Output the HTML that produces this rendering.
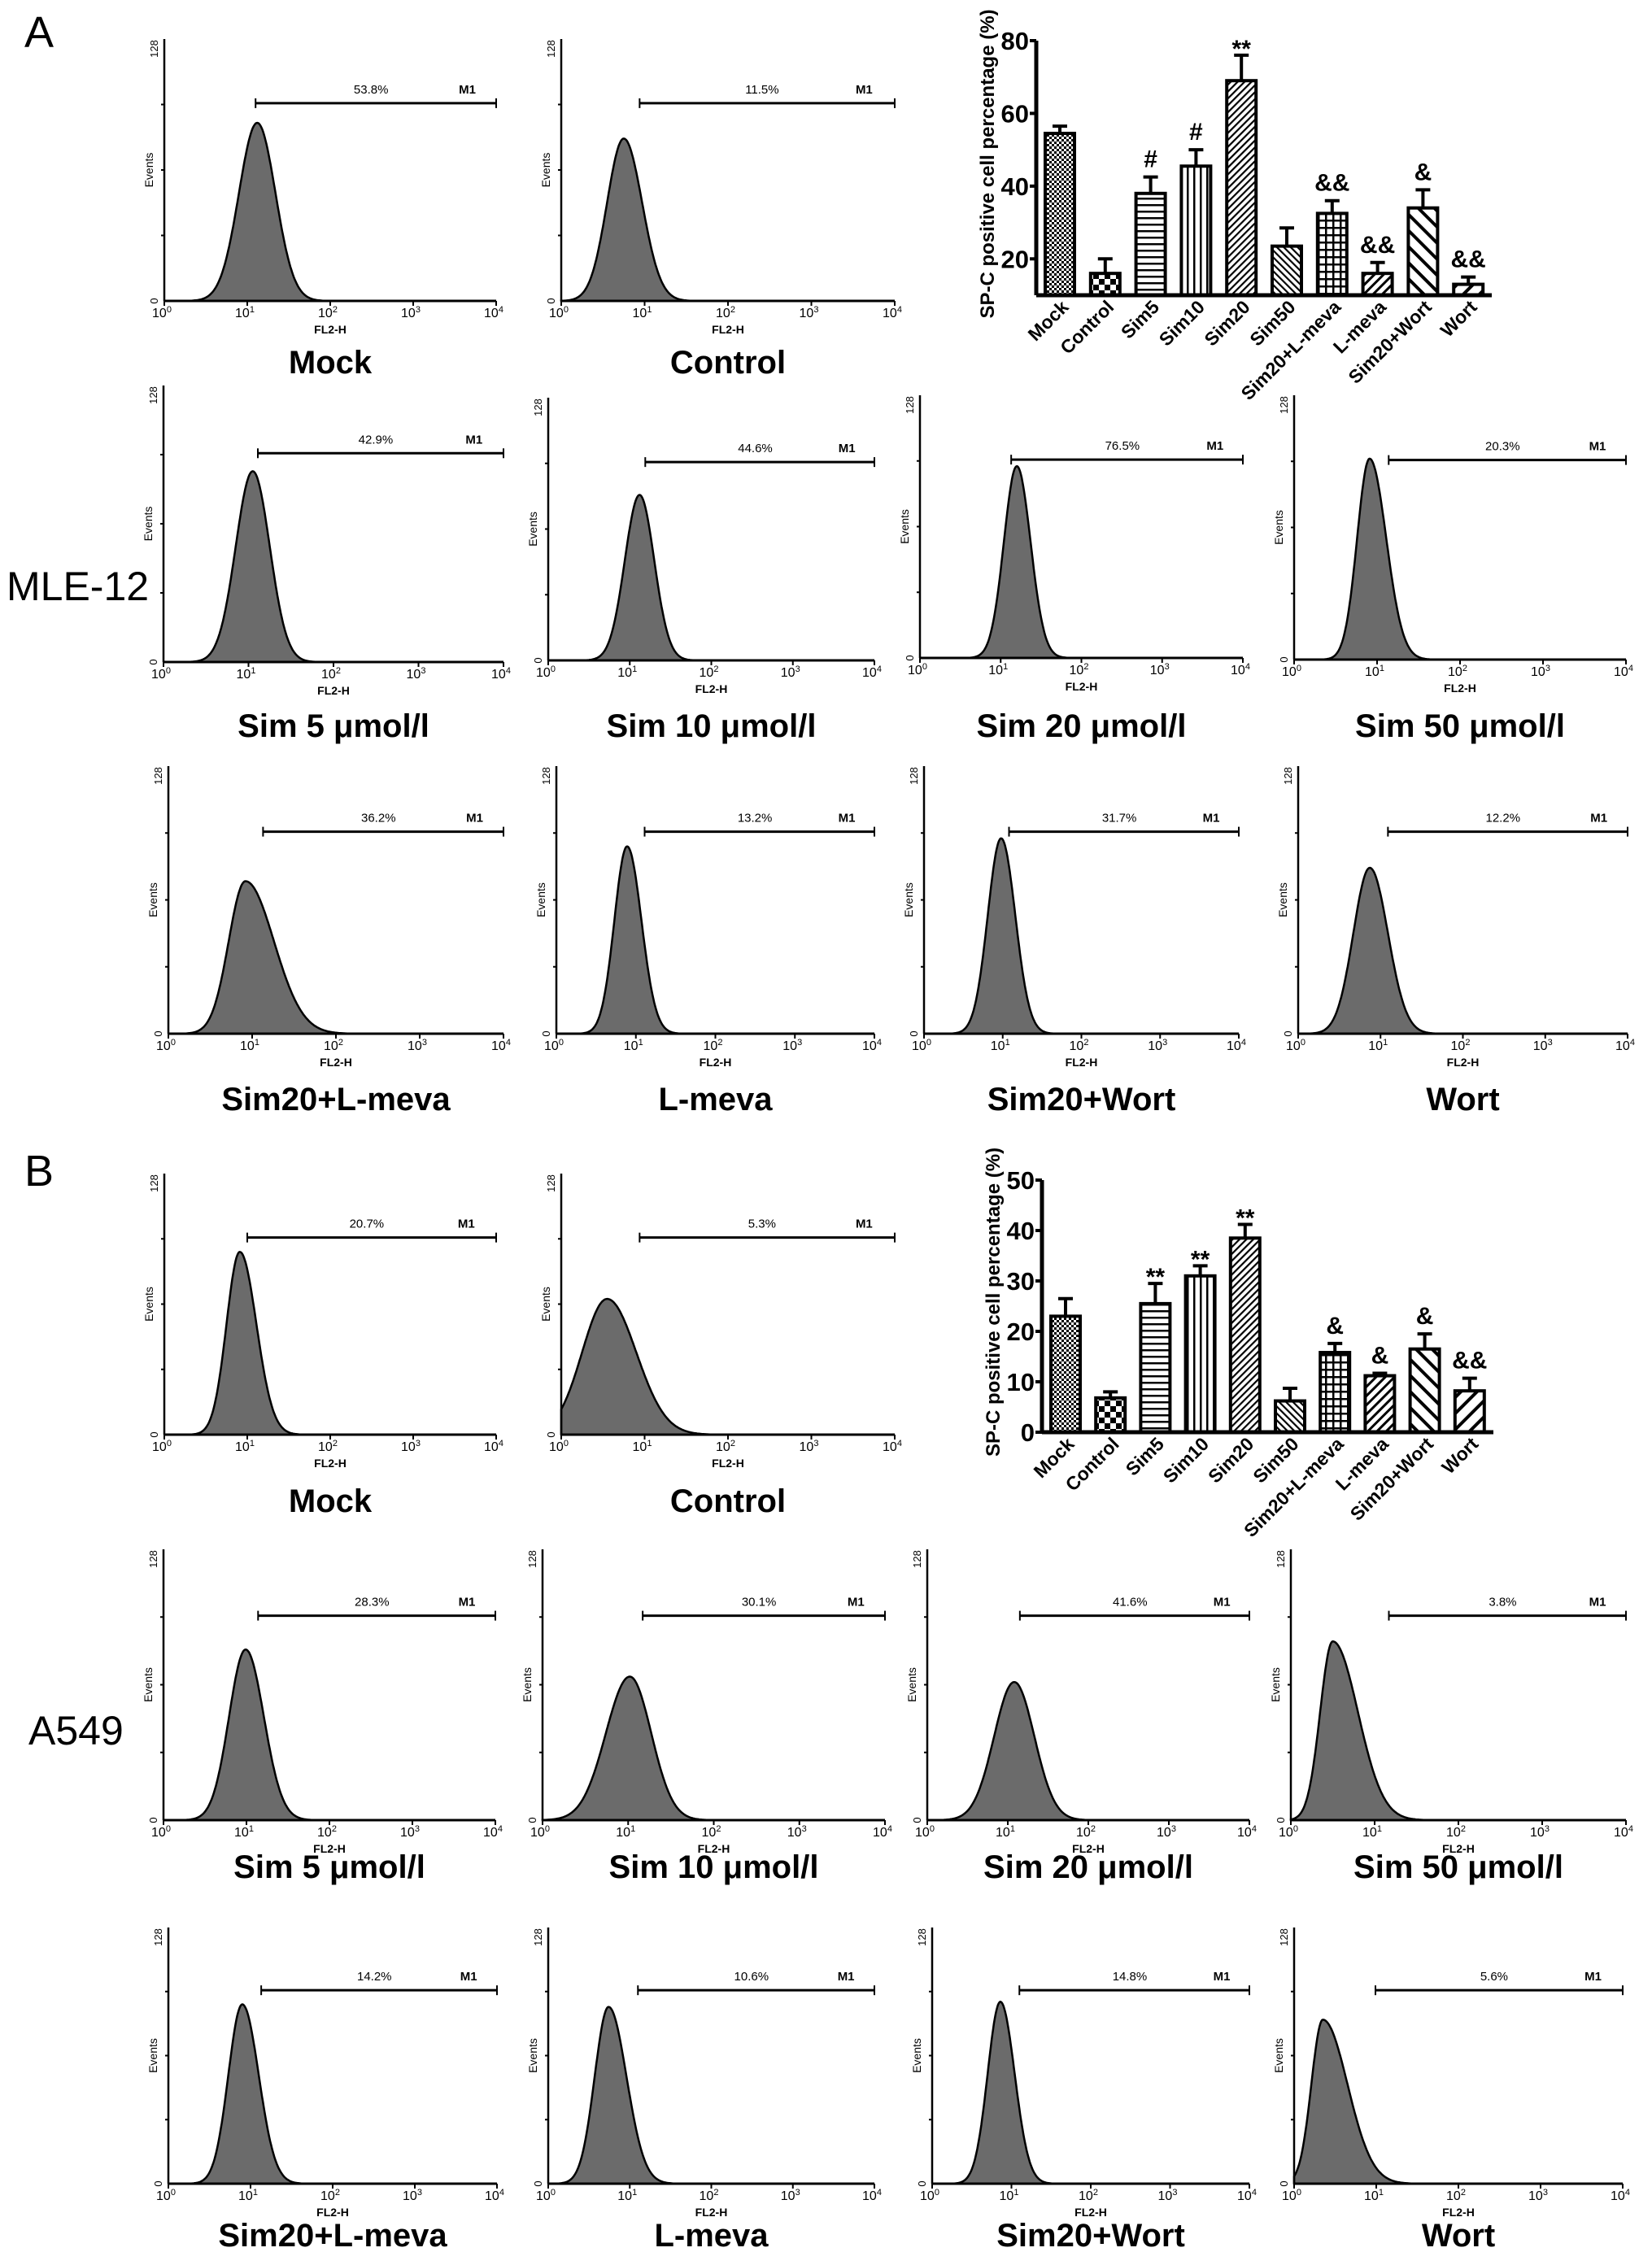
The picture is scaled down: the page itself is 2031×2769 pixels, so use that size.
<!DOCTYPE html>
<html><head><meta charset="utf-8"><style>
html,body{margin:0;padding:0;background:#fff}
svg{display:block}
text{font-family:"Liberation Sans",Arial,sans-serif}
</style></head><body>
<svg id="fig" xmlns="http://www.w3.org/2000/svg" width="2031" height="2769" viewBox="0 0 2031 2769">
<defs>
<pattern id="p0" width="6" height="6" patternUnits="userSpaceOnUse"><rect width="6" height="6" fill="#fff"/><rect width="3" height="3" fill="#000"/><rect x="3" y="3" width="3" height="3" fill="#000"/></pattern>
<pattern id="p1" width="14" height="14" patternUnits="userSpaceOnUse"><rect width="14" height="14" fill="#fff"/><rect width="7" height="7" fill="#000"/><rect x="7" y="7" width="7" height="7" fill="#000"/></pattern>
<pattern id="p2" width="8" height="8" patternUnits="userSpaceOnUse"><rect width="8" height="8" fill="#fff"/><rect y="3" width="8" height="2.5" fill="#000"/></pattern>
<pattern id="p3" width="8" height="8" patternUnits="userSpaceOnUse"><rect width="8" height="8" fill="#fff"/><rect x="3" width="2.5" height="8" fill="#000"/></pattern>
<pattern id="p4" width="6" height="6" patternUnits="userSpaceOnUse" patternTransform="rotate(45)"><rect width="6" height="6" fill="#fff"/><rect width="2.2" height="6" fill="#000"/></pattern>
<pattern id="p5" width="6" height="6" patternUnits="userSpaceOnUse" patternTransform="rotate(-45)"><rect width="6" height="6" fill="#fff"/><rect width="2.2" height="6" fill="#000"/></pattern>
<pattern id="p6" width="9" height="9" patternUnits="userSpaceOnUse"><rect width="9" height="9" fill="#fff"/><rect width="9" height="2.5" fill="#000"/><rect width="2.5" height="9" fill="#000"/></pattern>
<pattern id="p7" width="8" height="8" patternUnits="userSpaceOnUse" patternTransform="rotate(45)"><rect width="8" height="8" fill="#fff"/><rect width="3" height="8" fill="#000"/></pattern>
<pattern id="p8" width="14" height="14" patternUnits="userSpaceOnUse" patternTransform="rotate(-45)"><rect width="14" height="14" fill="#fff"/><rect width="4" height="14" fill="#000"/></pattern>
<pattern id="p9" width="14" height="14" patternUnits="userSpaceOnUse" patternTransform="rotate(45)"><rect width="14" height="14" fill="#fff"/><rect width="4" height="14" fill="#000"/></pattern>
</defs>
<text x="30" y="58" font-size="54">A</text>
<text x="30" y="1458" font-size="54">B</text>
<text x="8" y="738" font-size="50">MLE-12</text>
<text x="35" y="2145" font-size="50">A549</text>
</svg>
<script>
// ---- bar chart data ----
const groups = ["Mock","Control","Sim5","Sim10","Sim20","Sim50","Sim20+L-meva","L-meva","Sim20+Wort","Wort"];
const valuesA = [54.5,16,38,45.5,69,23.5,32.5,16,34,13];
const errorsA = [2,4,4.5,4.5,7,5,3.5,3,5,2];
const marksA = ["","","#","#","**","","&&","&&","&","&&"];
const ticksA = [20,40,60,80];
const valuesB = [23,6.8,25.5,31,38.5,6.2,15.8,11.2,16.5,8.2];
const errorsB = [3.5,1.2,4,2,2.7,2.5,1.8,0.5,3,2.5];
const marksB = ["","","**","**","**","","&","&","&","&&"];
const ticksB = [0,10,20,30,40,50];
// ---- histogram data (per panel) ----
const histTitles = ["Mock","Control","Sim 5 μmol/l","Sim 10 μmol/l","Sim 20 μmol/l","Sim 50 μmol/l","Sim20+L-meva","L-meva","Sim20+Wort","Wort",
 "Mock","Control","Sim 5 μmol/l","Sim 10 μmol/l","Sim 20 μmol/l","Sim 50 μmol/l","Sim20+L-meva","L-meva","Sim20+Wort","Wort"];
const histPercents = ["53.8%","11.5%","42.9%","44.6%","76.5%","20.3%","36.2%","13.2%","31.7%","12.2%",
 "20.7%","5.3%","28.3%","30.1%","41.6%","3.8%","14.2%","10.6%","14.8%","5.6%"];
const peakLog = [1.12,0.75,1.05,1.12,1.2,0.91,0.92,0.89,0.98,0.87, 0.91,0.55,0.99,1.02,1.08,0.5,0.9,0.74,0.86,0.35];
const peakHeight = [0.68,0.62,0.69,0.63,0.73,0.76,0.57,0.70,0.73,0.62, 0.70,0.52,0.63,0.53,0.51,0.66,0.70,0.69,0.71,0.64];
const sigmaLeft = [0.22,0.2,0.2,0.18,0.16,0.15,0.2,0.16,0.17,0.2, 0.16,0.3,0.2,0.28,0.25,0.15,0.17,0.17,0.16,0.14];
const sigmaRight = [0.22,0.22,0.2,0.18,0.17,0.2,0.34,0.18,0.18,0.22, 0.2,0.35,0.22,0.25,0.25,0.3,0.2,0.22,0.18,0.3];
const markerStart = [1.1,0.94,1.11,1.19,1.13,1.14,1.13,1.11,1.08,1.09, 1.0,0.94,1.14,1.17,1.15,1.17,1.13,1.1,1.1,0.99];

// layout (pixel geometry, not data)
const panelBoxes = [
 [202,48,610,370,445],[690,48,1100,370,445],
 [201,474,619,814,892],[674,489,1075,812,892],[1131,486,1528,809,892],[1591,486,1999,811,892],
 [207,942,619,1271,1351],[684,942,1075,1271,1351],[1136,942,1523,1271,1351],[1596,942,2001,1271,1351],
 [202,1443,610,1764,1845],[690,1443,1100,1764,1845],
 [201,1905,609,2238,2295],[667,1905,1088,2238,2295],[1140,1905,1536,2238,2295],[1587,1905,1999,2238,2295],
 [207,2370,611,2685,2748],[674,2370,1075,2685,2748],[1146,2370,1536,2685,2748],[1591,2370,1995,2685,2748]
];
const NS="http://www.w3.org/2000/svg";
const svg=document.getElementById('fig');
function mk(tag,attrs,parent,txt){const e=document.createElementNS(NS,tag);for(const k in attrs)e.setAttribute(k,attrs[k]);if(txt!==undefined)e.textContent=txt;(parent||svg).appendChild(e);return e;}

panelBoxes.forEach((b,i)=>{
 const [L,T,R,B,LY]=b;
 const g=mk('g',{});
 
 
 const W=R-L,H=B-T;
 const xs=d=>L+d/4*W, ys=f=>B-f*H;
 let p='M'+L+','+B;
 for(let d=0;d<=4.0001;d+=0.01){
  const s=d<peakLog[i]?sigmaLeft[i]:sigmaRight[i];
  const f=peakHeight[i]*Math.exp(-Math.pow(d-peakLog[i],2)/(2*s*s));
  p+=' L'+xs(d).toFixed(1)+','+ys(f).toFixed(1);
 }
 p+=' L'+R+','+B+' Z';
 const area=mk('path',{d:p,fill:'#6b6b6b',stroke:'#000','stroke-width':2.5},g);
 
 
 mk('line',{x1:L,y1:T,x2:L,y2:B,stroke:'#000','stroke-width':2.5},g);
 mk('line',{x1:L,y1:B,x2:R,y2:B,stroke:'#000','stroke-width':3},g);
 for(let k=1;k<4;k++)mk('line',{x1:L-4,y1:T+k*H/4,x2:L,y2:T+k*H/4,stroke:'#000','stroke-width':2},g);
 for(let k=0;k<=4;k++){
  mk('line',{x1:xs(k),y1:B,x2:xs(k),y2:B+6,stroke:'#000','stroke-width':2},g);
  const t=mk('text',{x:xs(k)-3,y:B+20,'font-size':16,'text-anchor':'middle'},g);
  
  
  t.innerHTML='10<tspan dy="-6" font-size="11">'+k+'</tspan>';
 }
 const xl=mk('text',{x:L+W*0.5,y:B+40,'font-size':14,'font-weight':'bold','text-anchor':'middle'},g,'FL2-H');
 
 
 const yl=mk('text',{x:0,y:0,'font-size':14,'text-anchor':'middle',transform:'translate('+(L-14)+','+(T+H/2)+') rotate(-90)'},g,'Events');
 
 
 mk('text',{x:0,y:0,'font-size':13,'text-anchor':'middle',transform:'translate('+(L-8)+','+(T+12)+') rotate(-90)'},g,'128');
 mk('text',{x:0,y:0,'font-size':13,'text-anchor':'middle',transform:'translate('+(L-8)+','+(B)+') rotate(-90)'},g,'0');
 const my=ys(0.755), mx=xs(markerStart[i]);
 const m=mk('g',{},g);
 
 
 mk('line',{x1:mx,y1:my,x2:R,y2:my,stroke:'#000','stroke-width':3},m);
 mk('line',{x1:mx,y1:my-6,x2:mx,y2:my+6,stroke:'#000','stroke-width':2},m);
 mk('line',{x1:R,y1:my-6,x2:R,y2:my+6,stroke:'#000','stroke-width':2},m);
 mk('text',{x:mx+(R-mx)*0.48,y:my-12,'font-size':15,'text-anchor':'middle'},m,histPercents[i]);
 mk('text',{x:mx+(R-mx)*0.88,y:my-12,'font-size':15,'font-weight':'bold','text-anchor':'middle'},m,'M1');
 const tt=mk('text',{x:L+W*0.5,y:LY+14,'font-size':40,'font-weight':'bold','text-anchor':'middle'},g,histTitles[i]);
 
 
});

function barChart(name,vals,errs,marks,ticks,yMin,yMax,yTop,yBot,axX,c0,step,xEnd){
 const g=mk('g',{});
 
 
 const ys=v=>yBot-(v-yMin)/(yMax-yMin)*(yBot-yTop);
 const bw=36;
 vals.forEach((v,i)=>{
  const cx=c0+i*step;
  const b=mk('rect',{x:cx-bw/2,y:ys(v),width:bw,height:yBot-ys(v),fill:'url(#p'+i+')',stroke:'#000','stroke-width':4},g);
  
  
  const et=ys(v+errs[i]);
  const e=mk('path',{d:'M'+cx+','+ys(v)+' L'+cx+','+et+' M'+(cx-9)+','+et+' L'+(cx+9)+','+et,stroke:'#000','stroke-width':4,fill:'none'},g);
  
  
  if(marks[i]){
   const s=mk('text',{x:cx,y:et-12+(marks[i]=='**'?14:0),'font-size':30,'font-weight':'bold','text-anchor':'middle'},g,marks[i]);
   
   
  }
  const lbl=mk('text',{x:0,y:0,'font-size':23,'font-weight':'bold','text-anchor':'end',transform:'translate('+(cx+12)+','+(yBot+16)+') rotate(-45)'},g,groups[i]);
  
  
 });
 mk('line',{x1:axX,y1:yTop,x2:axX,y2:yBot,stroke:'#000','stroke-width':5},g);
 mk('line',{x1:axX,y1:yBot,x2:xEnd,y2:yBot,stroke:'#000','stroke-width':5},g);
 ticks.forEach(t=>{
  mk('line',{x1:axX-8,y1:ys(t),x2:axX,y2:ys(t),stroke:'#000','stroke-width':4},g);
  const tl=mk('text',{x:axX-9,y:ys(t)+11,'font-size':31,'font-weight':'bold','text-anchor':'end'},g,String(t));
  
  
 });
 const yl=mk('text',{x:0,y:0,'font-size':24,'font-weight':'bold','text-anchor':'middle',transform:'translate('+(axX-52)+','+((yTop+yBot)/2-5)+') rotate(-90)'},g,'SP-C positive cell percentage (%)');
 
 
}
barChart('bar-chart-mle12',valuesA,errorsA,marksA,ticksA,10,80,50,363,1274,1303,55.8,1834);
barChart('bar-chart-a549',valuesB,errorsB,marksB,ticksB,0,50,1451,1761,1281,1310,55.2,1836);
</script>
</body></html>
